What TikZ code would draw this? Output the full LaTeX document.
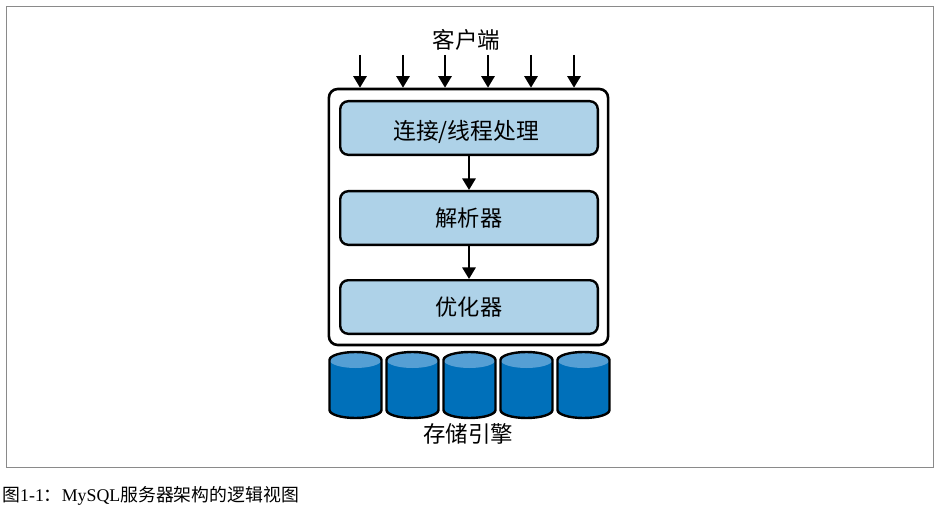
\documentclass[tikz,border=0pt]{standalone}
\usepackage{fontspec}
\setmainfont{Liberation Serif}
\newfontfamily\cjk{Noto Sans CJK SC}
\usetikzlibrary{arrows.meta}
\definecolor{boxblue}{HTML}{AED2E8}
\definecolor{diskblue}{HTML}{0070BA}
\definecolor{disktop}{HTML}{559FD4}
\definecolor{framegray}{HTML}{8A8A8A}
\tikzset{
  x=0.25mm, y=-0.25mm,
  label/.style={font=\cjk\fontsize{16}{18}\selectfont, inner sep=0pt},
  layer/.style={draw, line width=0.6mm, fill=boxblue, rounded corners=2mm, minimum width=64.4mm, minimum height=13.4mm, inner sep=0pt, font=\cjk\fontsize{15.8}{18}\selectfont},
  flow/.style={-{Triangle[length=2.9mm,width=3.3mm]}, line width=0.6mm},
  disk/.style={line width=0.6mm, line join=round}
}
\begin{document}
\begin{tikzpicture}
    \useasboundingbox (0,0) rectangle (936,508);
    \draw[framegray, line width=0.25mm] (6.5,6.5) rectangle (933,467);
    % server box and its three layers
    \node (server) [draw, line width=0.65mm, rounded corners=2.2mm, minimum width=69.8mm, minimum height=64mm, inner sep=0pt] at (468.5,217) {};
    \node (conn) [layer] at (469,128) {\raisebox{-8.5pt}[0pt][0pt]{\hspace*{-4pt}\fontsize{16.2}{18}\selectfont 连接/线程处理}};
    \node (parser) [layer] at (469,218) {解析器};
    \node (optim) [layer] at (469,307) {优化器};
    \draw[flow] (conn) to (parser);
    \draw[flow] (parser) to (optim);
    % clients
    \node (client) [label] at (466.5,39.5) {客户端};
    \foreach \x in {360,403,445,488,531,574} {
      \coordinate (c\x) at (\x,55);
      \draw[flow] (c\x) to (c\x |- server.north);
    }
    % storage engines
    \foreach \x in {355.5,412.5,469.5,526.5,583.5} {
      \fill[diskblue] (\x-26,360) -- (\x-26,410) arc[start angle=180, end angle=0, x radius=26, y radius=8] -- (\x+26,360) -- cycle;
      \fill[disktop] (\x,360) ellipse[x radius=26, y radius=8];
      \draw[disk] (\x-26,360) arc[start angle=180, end angle=360, x radius=26, y radius=8] -- (\x+26,410) arc[start angle=0, end angle=180, x radius=26, y radius=8] -- cycle;
    }
    \node (engine) [label] at (468,434) {存储引擎};
    % caption under the frame
    \node (caption) [anchor=west, inner sep=0pt, font=\fontsize{12.7}{14}\selectfont] at (2,495.5) {{\cjk 图}1-1{\cjk ：}MySQL{\cjk 服务器架构的逻辑视图}};
\end{tikzpicture}
\end{document}
